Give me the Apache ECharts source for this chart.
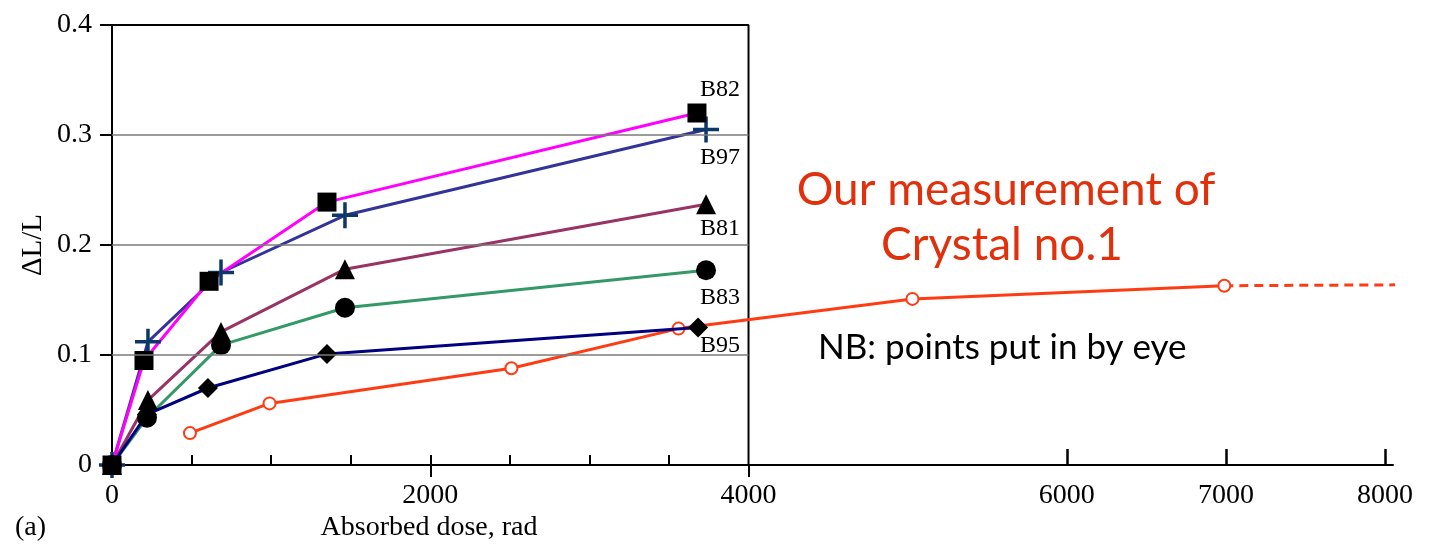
<!DOCTYPE html>
<html>
<head>
<meta charset="utf-8">
<script src="https://cdn.jsdelivr.net/npm/echarts@6/dist/echarts.min.js"></script>
<style>
  html, body { margin: 0; padding: 0; background: #fff; }
  #chart { width: 1446px; height: 544px; }
</style>
</head>
<body>
<div id="chart"></div>
<script>
// Length change ΔL/L against absorbed dose for several crystals
const b82Dose = [0, 201, 610, 1351, 3676];
const b82Val  = [0, 0.095, 0.167, 0.239, 0.320];
const b97Dose = [0, 226, 685, 1464, 3733];
const b97Val  = [0, 0.112, 0.175, 0.227, 0.305];
const b81Dose = [0, 226, 685, 1464, 3733];
const b81Val  = [0, 0.059, 0.121, 0.178, 0.237];
const b83Dose = [0, 220, 685, 1464, 3733];
const b83Val  = [0, 0.043, 0.109, 0.143, 0.177];
const b95Dose = [0, 220, 603, 1351, 3683];
const b95Val  = [0, 0.046, 0.070, 0.101, 0.125];

// Crystal no.1 measurement, plus its dashed continuation
const crystalDose = [490, 990, 2510, 3560, 5030, 6990];
const crystalVal  = [0.029, 0.056, 0.088, 0.124, 0.151, 0.163];
const crystalTailDose = [6990, 8420];
const crystalTailVal  = [0.163, 0.164];

// Axis ticks and labels
const xLabelValues = [0, 2000, 4000, 6000, 7000, 8000];
const xMinorTicks = [500, 1000, 1500, 2000, 2500, 3000, 3500];
const xFarTicks = [6000, 7000, 8000];
const xMajorTicks = [2000, 4000];
const yGridValues = [0.1, 0.2, 0.3];
const boxDoseMax = 4000;
const boxValMax = 0.4;

const pairs = (xs, ys) => xs.map((x, i) => [x, ys[i]]);
const serif = 'Liberation Serif';
const plusPath = 'path://M-1.35,-10 L1.35,-10 L1.35,-1.35 L10,-1.35 L10,1.35 L1.35,1.35 L1.35,10 L-1.35,10 L-1.35,1.35 L-10,1.35 L-10,-1.35 L-1.35,-1.35 Z';

function crystalSeries(name, xs, ys, lineColor, symbol, symbolSize, symbolColor, labelOffset) {
  const data = pairs(xs, ys).map((p, i) => {
    if (i !== xs.length - 1) return p;
    return {
      value: p,
      label: {
        show: true, position: 'inside', offset: labelOffset,
        formatter: name, fontFamily: serif, fontSize: 24, color: '#000'
      }
    };
  });
  return {
    name, type: 'line', data,
    symbol, symbolSize, showAllSymbol: true,
    lineStyle: { color: lineColor, width: 3 },
    itemStyle: { color: symbolColor, borderWidth: 0 },
    emphasis: { disabled: true },
    z: 3
  };
}

// extra bottom axes only carry tick marks of a different length
function tickAxis(values, inside, length, width) {
  return {
    type: 'value', min: 0, max: 8050, position: 'bottom', offset: 0,
    axisLine: { show: false },
    axisTick: { show: true, inside, length, customValues: values,
                lineStyle: { color: '#000', width } },
    axisLabel: { show: false }, splitLine: { show: false }
  };
}

const frame = pairs([0, boxDoseMax, boxDoseMax], [boxValMax, boxValMax, 0]);

const option = {
  animation: false,
  grid: { left: 112, right: 53, top: 25, bottom: 79 },
  xAxis: [
    {
      type: 'value', min: 0, max: 8050, position: 'bottom',
      axisLine: { show: true, onZero: false, lineStyle: { color: '#000', width: 2 } },
      axisTick: { show: true, inside: true, length: 10, customValues: xMinorTicks,
                  lineStyle: { color: '#000', width: 2 } },
      axisLabel: { customValues: xLabelValues, margin: 17, fontFamily: serif,
                   fontSize: 28, color: '#000', formatter: v => String(v) },
      splitLine: { show: false }
    },
    tickAxis(xFarTicks, true, 16, 2.5),
    tickAxis(xMajorTicks, false, 12, 2)
  ],
  yAxis: {
    type: 'value', min: 0, max: 0.4, interval: 0.1,
    axisLine: { show: true, lineStyle: { color: '#000', width: 2 } },
    axisTick: { show: true, inside: false, length: 12, lineStyle: { color: '#000', width: 2 } },
    axisLabel: { margin: 20, fontFamily: serif, fontSize: 28, color: '#000' },
    splitLine: { show: false }
  },
  series: [
    {
      name: 'frame', type: 'line', data: frame, symbol: 'none', clip: false, silent: true,
      lineStyle: { color: '#000', width: 2 },
      markLine: {
        silent: true, symbol: 'none', label: { show: false },
        lineStyle: { color: '#7a7a7a', width: 1.5, type: 'solid' },
        data: yGridValues.map(v => [{ coord: [0, v] }, { coord: [boxDoseMax, v] }])
      },
      z: 1
    },
    {
      name: 'crystal1-tail', type: 'line', data: pairs(crystalTailDose, crystalTailVal),
      symbol: 'none', clip: false, silent: true,
      lineStyle: { color: '#ff3b14', width: 3, type: [9, 6] }, z: 2
    },
    {
      name: 'Crystal no.1', type: 'line', data: pairs(crystalDose, crystalVal),
      symbol: 'emptyCircle', symbolSize: 12, showAllSymbol: true,
      lineStyle: { color: '#ff3b14', width: 3 },
      itemStyle: { color: '#ff3b14', borderColor: '#ff3b14', borderWidth: 2.5 },
      emphasis: { disabled: true }, z: 2
    },
    crystalSeries('B97', b97Dose, b97Val, '#333399', plusPath, 26, '#0b3866', [14, 28]),
    crystalSeries('B81', b81Dose, b81Val, '#993366', 'triangle', 20, '#000', [14, 24]),
    crystalSeries('B83', b83Dose, b83Val, '#339966', 'circle', 20, '#000', [14, 27]),
    crystalSeries('B95', b95Dose, b95Val, '#000080', 'diamond', 20, '#000', [22, 18]),
    crystalSeries('B82', b82Dose, b82Val, '#ff00ff', 'rect', 19, '#000', [23, -23])
  ],
  graphic: [
    { type: 'text', x: 33, y: 245, rotation: Math.PI / 2,
      style: { text: 'ΔL/L', font: '29px "Liberation Serif"', fill: '#000',
               align: 'center', verticalAlign: 'middle' } },
    { type: 'text', x: 429, y: 528,
      style: { text: 'Absorbed dose, rad', font: '28px "Liberation Serif"', fill: '#000',
               align: 'center', verticalAlign: 'middle' } },
    { type: 'text', x: 15, y: 528,
      style: { text: '(a)', font: '28px "Liberation Serif"', fill: '#000',
               align: 'left', verticalAlign: 'middle' } },
    { type: 'text', x: 1006, y: 190,
      style: { text: 'Our measurement of', font: '46px Lato', fill: '#e0300c',
               align: 'center', verticalAlign: 'middle' } },
    { type: 'text', x: 1002, y: 245,
      style: { text: 'Crystal no.1', font: '46px Lato', fill: '#e0300c',
               align: 'center', verticalAlign: 'middle' } },
    { type: 'text', x: 818, y: 348,
      style: { text: 'NB: points put in by eye', font: '35px Lato', fill: '#000',
               align: 'left', verticalAlign: 'middle' } }
  ]
};

const chart = echarts.init(document.getElementById('chart'), null, { renderer: 'canvas' });
chart.setOption(option);
</script>
</body>
</html>
